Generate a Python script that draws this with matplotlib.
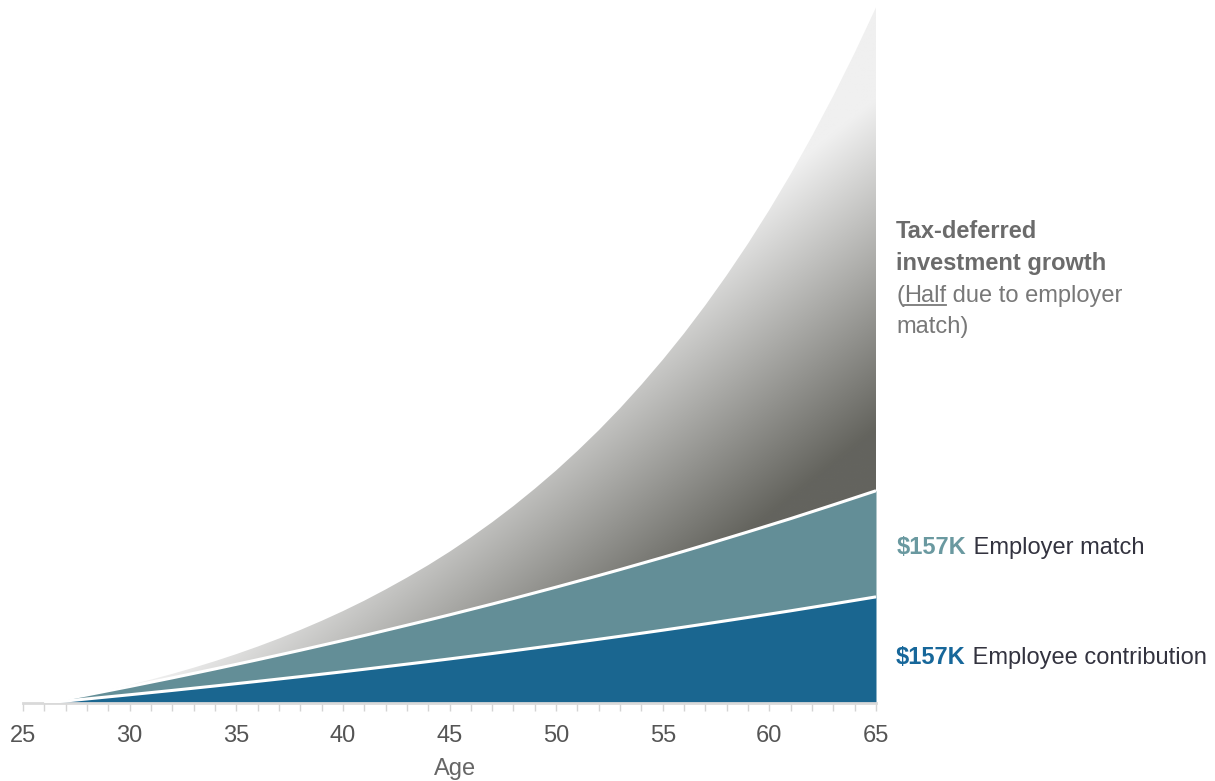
import numpy as np
import matplotlib.pyplot as plt
from matplotlib.transforms import IdentityTransform
from matplotlib.lines import Line2D

plt.rcParams['font.family'] = ['Liberation Sans', 'DejaVu Sans']

# cumulative balances in $K, ages 26..65
ages = list(range(26, 66))
employee = [0, 3.0, 6.0, 9.1, 12.2, 15.4, 18.6, 21.9, 25.2, 28.6,
            32.0, 35.5, 39.0, 42.6, 46.2, 49.9, 53.7, 57.5, 61.3, 65.2,
            69.2, 73.2, 77.3, 81.5, 85.7, 90.0, 94.3, 98.7, 103.2, 107.7,
            112.3, 117.0, 121.8, 126.6, 131.5, 136.4, 141.5, 146.6, 151.8, 157.0]
employer = [0, 3.0, 6.0, 9.1, 12.2, 15.4, 18.6, 21.9, 25.2, 28.6,
            32.0, 35.5, 39.0, 42.6, 46.2, 49.9, 53.7, 57.5, 61.3, 65.2,
            69.2, 73.2, 77.3, 81.5, 85.7, 90.0, 94.3, 98.7, 103.2, 107.7,
            112.3, 117.0, 121.8, 126.6, 131.5, 136.4, 141.5, 146.6, 151.8, 157.0]
growth = [0, 0.0, 0.4, 1.1, 2.2, 3.8, 5.9, 8.4, 11.5, 15.1,
          19.4, 24.3, 30.0, 36.3, 43.5, 51.5, 60.5, 70.4, 81.3, 93.3,
          106.5, 121.0, 136.8, 154.0, 172.6, 192.9, 214.9, 238.7, 264.5, 292.3,
          322.2, 354.5, 389.2, 426.5, 466.6, 509.7, 555.8, 605.3, 658.3, 715.1]
xticks = [25, 30, 35, 40, 45, 50, 55, 60, 65]

BLUE = '#1a6690'
TEAL = '#638e97'

W, H = 1215, 781
fig = plt.figure(figsize=(W / 100, H / 100), dpi=100)
ax = fig.add_axes([23 / W, 78 / H, 853 / W, 703 / H])
ax.set_xlim(25, 65)
ax.set_ylim(0, 1040)

emp = np.array(employee)
match_top = emp + np.array(employer)
total = match_top + np.array(growth)

ax.fill_between(ages, 0, emp, color=BLUE, lw=0, zorder=1)
ax.fill_between(ages, emp, match_top, color=TEAL, lw=0, zorder=1)
gpoly = ax.fill_between(ages, match_top, total, color='none', lw=0)

# diagonal gray gradient clipped to the growth area
xs = np.linspace(25, 65, 600)
ys = np.linspace(0, 1040, 600)
X, Y = np.meshgrid(xs, ys)
pts = ax.transData.transform(np.column_stack([X.ravel(), Y.ravel()]))
px = pts[:, 0]
py = H - pts[:, 1]
t = np.clip((0.8 * px + py - 800) / 330, 0, 1).reshape(X.shape)
light = np.array([240, 240, 240]) / 255
dark = np.array([100, 100, 94]) / 255
img = light + t[..., None] * (dark - light)
im = ax.imshow(img, extent=[25, 65, 0, 1040], origin='lower', aspect='auto',
               interpolation='bilinear', zorder=1.5)
im.set_clip_path(gpoly.get_paths()[0], ax.transData)
ax.set_xlim(25, 65)
ax.set_ylim(0, 1040)

ax.plot(ages, emp, color='white', lw=2.2, solid_capstyle='butt', zorder=3)
ax.plot(ages, match_top, color='white', lw=2.2, solid_capstyle='butt', zorder=3)

for s in ['top', 'right', 'left']:
    ax.spines[s].set_visible(False)
ax.spines['bottom'].set_color('#d9d9d9')
ax.spines['bottom'].set_linewidth(2)
ax.set_yticks([])
ax.set_xticks(xticks)
ax.set_xticks(range(25, 66), minor=True)
ax.tick_params(axis='x', which='both', length=6, width=1, color='#d4d4d4',
               labelsize=17, labelcolor='#555555', pad=9.5)

fig.text(455 / W, 1 - 769 / H, 'Age', ha='center', va='center',
         fontsize=17, color='#666666')

# right side labels, positioned in pixels
renderer = fig.canvas.get_renderer()


def rich(x, ybase, parts, size=17):
    out = []
    for s, color, weight in parts:
        txt = fig.text(x, H - ybase, s, color=color, fontweight=weight,
                       fontsize=size, va='baseline', ha='left',
                       transform=IdentityTransform())
        bb = txt.get_window_extent(renderer=renderer)
        out.append(bb)
        x = bb.x1
    return out


GRAY_B = '#6b6b6b'
GRAY = '#787878'
rich(896, 238, [('Tax-deferred', GRAY_B, 'bold')])
rich(896, 270, [('investment growth', GRAY_B, 'bold')])
bbs = rich(896, 302, [('(', GRAY, 'normal'), ('Half', GRAY, 'normal'),
                      (' due to employer', GRAY, 'normal')])
hb = bbs[1]
fig.add_artist(Line2D([hb.x0, hb.x1], [H - 305, H - 305], color=GRAY,
                      lw=1.3, transform=IdentityTransform()))
rich(896, 333, [('match)', GRAY, 'normal')])

rich(897, 554, [('$157K', '#6a99a0', 'bold'), (' Employer match', '#33333f', 'normal')])
rich(896, 664, [('$157K', '#17679a', 'bold'), (' Employee contribution', '#33333f', 'normal')])

fig.savefig('out.png', dpi=100)
